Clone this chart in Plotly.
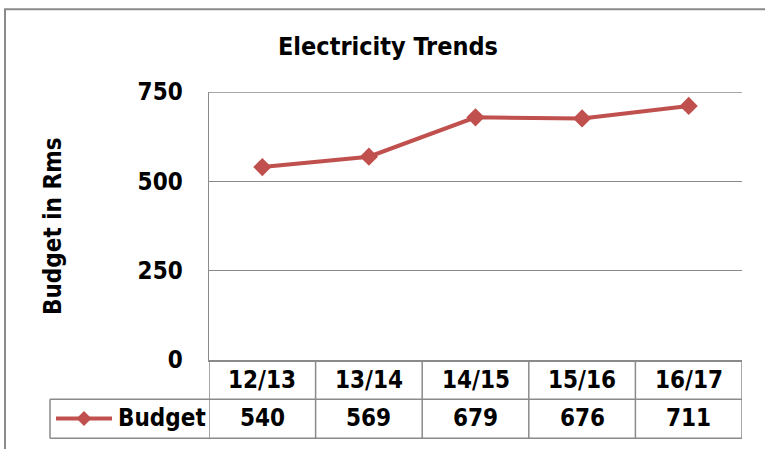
import plotly.graph_objects as go

# ---- data ----
categories = ["12/13", "13/14", "14/15", "15/16", "16/17"]
budget = [540, 569, 679, 676, 711]
series_name = "Budget"
y_ticks = [0, 250, 500, 750]
chart_title = "Electricity Trends"
y_title = "Budget in Rms"

# ---- layout geometry (pixels) ----
W, H = 765, 449
L, R, T, B = 209, 742, 92, 360
PW, PH = R - L, B - T


def px_x(p):
    return (p - L) / PW


def px_y(p):
    return (B - p) / PH


RED = "#C0504D"
GRID = "#8a8a8a"
FONT = "DejaVu Sans Condensed, DejaVu Sans, sans-serif"
FS = 24

fig = go.Figure()
fig.add_trace(go.Scatter(
    x=categories, y=budget, mode="lines+markers", name=series_name,
    line=dict(color=RED, width=4),
    marker=dict(symbol="diamond", size=14, color=RED),
    showlegend=False, cliponaxis=False, hoverinfo="skip",
))

shapes = []
# outer chart border (left & top visible)
shapes.append(dict(type="rect", xref="paper", yref="paper",
                   x0=px_x(5), x1=px_x(W + 20), y0=px_y(9.3), y1=px_y(H + 20),
                   line=dict(color=GRID, width=2), fillcolor="rgba(0,0,0,0)",
                   layer="below"))
# top gridline at the axis maximum
shapes.append(dict(type="line", xref="paper", yref="y",
                   x0=0, x1=1, y0=y_ticks[-1], y1=y_ticks[-1],
                   line=dict(color=GRID, width=1.5), layer="below"))
# data table grid
row1 = px_y(399.3)
row2 = px_y(438.3)
n = len(categories)
for i in range(n + 1):
    shapes.append(dict(type="line", xref="x", yref="paper",
                       x0=i - 0.5, x1=i - 0.5, y0=0, y1=row2,
                       line=dict(color=GRID, width=1.5)))
for yy in (row1, row2):
    shapes.append(dict(type="line", xref="paper", yref="paper",
                       x0=px_x(50), x1=1, y0=yy, y1=yy,
                       line=dict(color=GRID, width=1.5)))
shapes.append(dict(type="line", xref="paper", yref="paper",
                   x0=px_x(50), x1=px_x(50), y0=row1, y1=row2,
                   line=dict(color=GRID, width=1.5)))
# legend key in table
ly = px_y(418.5)
shapes.append(dict(type="line", xref="paper", yref="paper",
                   x0=px_x(56), x1=px_x(112), y0=ly, y1=ly,
                   line=dict(color=RED, width=4)))
cx, cy, hd = 84, 418.5, 7.5
path = "M {} {} L {} {} L {} {} L {} {} Z".format(
    px_x(cx - hd), px_y(cy), px_x(cx), px_y(cy - hd),
    px_x(cx + hd), px_y(cy), px_x(cx), px_y(cy + hd))
shapes.append(dict(type="path", xref="paper", yref="paper", path=path,
                   fillcolor=RED, line=dict(color=RED, width=0)))

annotations = []
tfont = dict(family=FONT, size=FS, color="black", weight="bold")
for c, v in zip(categories, budget):
    annotations.append(dict(x=c, xref="x", y=px_y(379.5), yref="paper",
                            text=c, showarrow=False, font=tfont,
                            xanchor="center", yanchor="middle"))
    annotations.append(dict(x=c, xref="x", y=px_y(418), yref="paper",
                            text=str(v), showarrow=False, font=tfont,
                            xanchor="center", yanchor="middle"))
annotations.append(dict(x=px_x(116), xref="paper", y=px_y(418), yref="paper",
                        text=series_name, showarrow=False, font=tfont,
                        xanchor="left", yanchor="middle"))
annotations.append(dict(x=px_x(53), xref="paper", y=px_y(226), yref="paper",
                        text=y_title, showarrow=False, textangle=-90,
                        font=tfont, xanchor="center", yanchor="middle"))
annotations.append(dict(x=px_x(388), xref="paper", y=px_y(47), yref="paper",
                        text=chart_title, showarrow=False,
                        font=dict(family=FONT, size=25, color="black", weight="bold"),
                        xanchor="center", yanchor="middle"))

fig.update_layout(
    width=W, height=H,
    margin=dict(l=L, r=W - R, t=T, b=H - B, pad=0),
    paper_bgcolor="white", plot_bgcolor="white",
    shapes=shapes, annotations=annotations,
    showlegend=False, hovermode=False,
    font=dict(family=FONT, size=FS, color="black"),
    xaxis=dict(type="category", range=[-0.5, n - 0.5], showgrid=False,
               showticklabels=False, ticks="", showline=True,
               linecolor=GRID, linewidth=1.5, zeroline=False, fixedrange=True),
    yaxis=dict(range=[0, 750], tickvals=y_ticks, showgrid=True,
               gridcolor=GRID, gridwidth=1.5, showline=True, linecolor=GRID,
               linewidth=1.5, zeroline=False, ticks="", fixedrange=True,
               ticklabelstandoff=20,
               tickfont=dict(family=FONT, size=FS, color="black", weight="bold")),
)

fig.write_html("out.html", config={"displayModeBar": False, "staticPlot": True},
               post_script="document.body.style.margin='0';document.body.style.overflow='hidden';")
